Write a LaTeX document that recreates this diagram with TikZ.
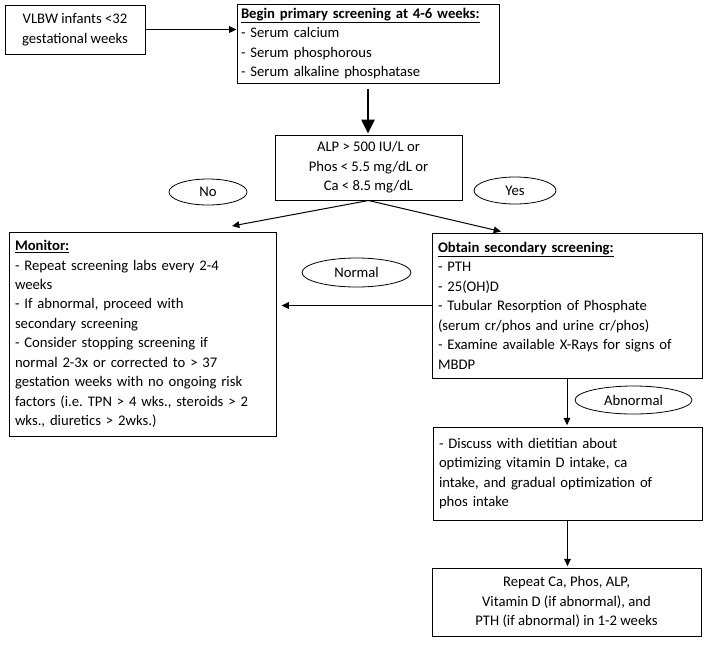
\documentclass[tikz,border=0pt]{standalone}
\usepackage{fontspec}
\setmainfont{Carlito}
\usetikzlibrary{arrows.meta,shapes.geometric}
\begin{document}
\frenchspacing
\begin{tikzpicture}[x=0.75pt,y=-0.75pt,
  every node/.style={font=\fontsize{11pt}{14.6pt}\selectfont\frenchspacing, inner sep=0pt},
  box/.style={draw, line width=0.75pt, rectangle, inner xsep=4.5pt, inner ysep=0pt},
  lbl/.style={draw, line width=0.6pt, ellipse, inner sep=0pt},
  arr/.style={line width=0.75pt, -{Triangle[width=5pt,length=5.5pt]}},
  bigarr/.style={line width=1.1pt, -{Triangle[width=10pt,length=10.5pt]}}]
\useasboundingbox (0,0) rectangle (712,644);

\node[box, minimum width=105pt, minimum height=36.75pt, align=center] (vlbw) at (75,29.5)
  {VLBW infants <32\\gestational weeks};

\node[box, minimum width=196.5pt, minimum height=59.25pt, inner xsep=3pt, text width=190.5pt, align=left] (begin) at (368,43.5)
  {\textbf{\underline{Begin primary screening at 4-6 weeks:}}\\
   - Serum calcium\\
   - Serum phosphorous\\
   - Serum alkaline phosphatase};

\node[box, minimum width=140.25pt, minimum height=48.75pt, align=center] (alp) at (368.5,167.5)
  {ALP > 500 IU/L or\\Phos < 5.5 mg/dL or\\Ca < 8.5 mg/dL};

\node[lbl, minimum width=58.5pt, minimum height=19.5pt] (no) at (208,192) {No};
\node[lbl, minimum width=61.5pt, minimum height=20.25pt] (yes) at (515,190.5) {Yes};

\node[box, minimum width=200.25pt, minimum height=153pt, text width=191.25pt, align=left] (monitor) at (142.5,334)
  {\textbf{\underline{Monitor:}}\\
   - Repeat screening labs every 2-4\\
   weeks\\
   - If abnormal, proceed with\\
   secondary screening\\
   - Consider stopping screening if\\
   normal 2-3x or corrected to > 37\\
   gestation weeks with no ongoing risk\\
   factors (i.e. TPN > 4 wks., steroids > 2\\
   wks., diuretics > 2wks.)};

\node[box, minimum width=202.5pt, minimum height=108.75pt, text width=193.5pt, align=left] (obtain) at (567,305.5)
  {\textbf{\underline{Obtain secondary screening:}}\\
   - PTH\\
   - 25(OH)D\\
   - Tubular Resorption of Phosphate\\
   (serum cr/phos and urine cr/phos)\\
   - Examine available X-Rays for signs of\\
   MBDP};

\node[lbl, minimum width=81.75pt, minimum height=21.75pt] (normal) at (356.5,272.5) {Normal};
\node[lbl, minimum width=87.75pt, minimum height=21pt] (abnormal) at (633.5,400) {Abnormal};

\node[box, minimum width=201.75pt, minimum height=69.75pt, text width=192.75pt, align=left] (discuss) at (567.5,473.5)
  {- Discuss with dietitian about\\
   optimizing vitamin D intake, ca\\
   intake, and gradual optimization of\\
   phos intake};

\node[box, minimum width=201.75pt, minimum height=51pt, align=center] (repeat) at (566.5,602)
  {Repeat Ca, Phos, ALP,\\
   Vitamin D (if abnormal), and\\
   PTH (if abnormal) in 1-2 weeks};

\coordinate (mtip) at (232,226);
\coordinate (otip) at (501,231.5);

\draw[arr] (vlbw.east) -- (vlbw.east -| begin.west);
\draw[bigarr, shorten <=3.75pt, shorten >=0.75pt] (begin.south) -- (begin.south |- alp.north);
\draw[arr] (alp.south) -- (mtip);
\draw[arr] (alp.south) -- (otip);
\draw[arr, shorten >=3.75pt] (obtain.west) -- (obtain.west -| monitor.east);
\draw[arr, shorten >=1pt] (obtain.south) -- (obtain.south |- discuss.north);
\draw[arr, shorten >=1pt] (discuss.south) -- (discuss.south |- repeat.north);
\end{tikzpicture}
\end{document}
